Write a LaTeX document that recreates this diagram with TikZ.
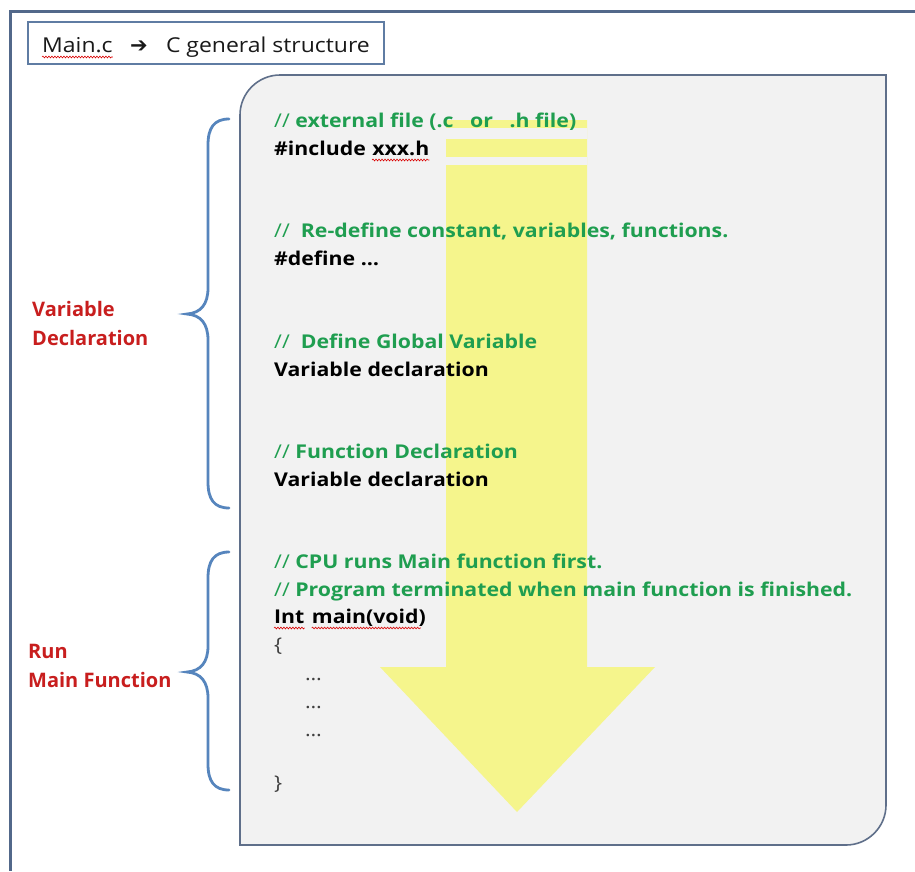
\documentclass[tikz,border=0pt]{standalone}
\usepackage{fontspec}
\setmainfont{Open Sans}[FakeStretch=1.12]
\newfontfamily\labelfont{Open Sans}
\newfontfamily\symfont{DejaVu Sans}
\usetikzlibrary{decorations.pathmorphing}

\definecolor{frameblue}{HTML}{52688A}
\definecolor{titleedge}{HTML}{5F7CA3}
\definecolor{panelgrey}{HTML}{F2F2F2}
\definecolor{paneledge}{HTML}{5F6F8A}
\definecolor{flowyellow}{HTML}{F5F58C}
\definecolor{cmtgreen}{HTML}{1F9E50}
\definecolor{labelred}{HTML}{C81E1E}
\definecolor{braceblue}{HTML}{5685BD}

\tikzset{
  codefont/.style={font=\bfseries\fontsize{19}{28}\selectfont},
  codeline/.style={codefont, anchor=base west, inner sep=0pt, text=black},
  cmtline/.style={codefont, anchor=base west, inner sep=0pt, text=cmtgreen},
  dotsline/.style={font=\fontsize{19}{28}\selectfont, anchor=base west, inner sep=0pt, text=black!75},
  sidelabel/.style={font=\labelfont\bfseries\fontsize{20}{29}\selectfont, anchor=base west, inner sep=0pt,
    align=left, text=labelred},
  titletext/.style={font=\fontsize{20.5}{24}\selectfont, anchor=base west, inner sep=0pt, text=black!90},
  bracepath/.style={draw=braceblue, line width=2.8pt, line cap=round},
  squiggle/.style={draw=red!85!black, line width=0.6pt,
    decorate, decoration={snake, amplitude=0.9pt, segment length=3pt}},
}

\begin{document}
\begin{tikzpicture}[x=1pt, y=-1pt]
\useasboundingbox (0,0) rectangle (915,871);
\fill[white] (0,0) rectangle (915,871);

% outer frame (only top and left edges fall inside the page)
\draw[frameblue, line width=3pt] (915,11) -- (10,11) -- (10,871);

% title box
\node[draw=titleedge, line width=1.2pt, minimum width=356pt, minimum height=42pt,
      inner sep=0pt] (titlebox) at (206,43) {};
\node[titletext] (titlemain) at (42,52) {Main.c};
\node[titletext, font=\symfont\bfseries\fontsize{21}{24}\selectfont] (titlearrow)
  at ([xshift=17pt]titlemain.base east) {➔};
\node[titletext] (titlerest) at ([xshift=18pt]titlearrow.base east) {C general structure};
\draw[squiggle] ([yshift=-5pt]titlemain.base west) -- ([yshift=-5pt]titlemain.base east);

% code panel: rounded top-left and bottom-right corners
\draw[fill=panelgrey, draw=paneledge, line width=1.6pt]
  (240,845) -- (240,115) .. controls (240,93) and (258,75) .. (280,75)
  -- (886,75) -- (886,805) .. controls (886,827) and (868,845) .. (846,845) -- cycle;

% flow arrow through the code
\fill[flowyellow] (446,120) -- (587,120) -- (587,667) -- (655,667) -- (517,812)
  -- (380,667) -- (446,667) -- cycle;
\fill[panelgrey] (446,128) rectangle (587,139);
\fill[panelgrey] (446,157) rectangle (587,165);

% code listing
\node[cmtline] (l1) at (274,127) {{\mdseries //} external file (.c\ \ \ or\ \ \ .h file)};
\node[codeline] (l2a) at (274,155) {\#include};
\node[codeline] (l2b) at ([xshift=6pt]l2a.base east) {xxx.h};
\draw[squiggle] ([yshift=-5pt]l2b.base west) -- ([yshift=-5pt]l2b.base east);

\node[cmtline] (l3) at (274,237) {{\mdseries //}\ \ Re-define constant, variables, functions.};
\node[codeline] (l4) at (274,265) {\#define \dots};

\node[cmtline] (l5) at (274,348) {{\mdseries //}\ \ Define Global Variable};
\node[codeline] (l6) at (274,376) {Variable declaration};

\node[cmtline] (l7) at (274,458) {{\mdseries //} Function Declaration};
\node[codeline] (l8) at (274,486) {Variable declaration};

\node[cmtline] (l9) at (274,568) {{\mdseries //} CPU runs Main function first.};
\node[cmtline] (l10) at (274,596) {{\mdseries //} Program terminated when main function is finished.};
\node[codeline] (l11a) at (274,623) {Int};
\node[codeline] (l11b) at ([xshift=7pt]l11a.base east) {main(void)};
\draw[squiggle] ([yshift=-5pt]l11a.base west) -- ([yshift=-5pt]l11a.base east);
\draw[squiggle] ([yshift=-5pt]l11b.base west) -- ([yshift=-5pt,xshift=-5pt]l11b.base east);
\node[dotsline] (l12) at (274,651) {\{};
\node[dotsline] (l13) at (305,680) {\dots};
\node[dotsline] (l14) at (305,708) {\dots};
\node[dotsline] (l15) at (305,736) {\dots};
\node[dotsline] (l16) at (274,789) {\}};

% section braces and their labels
\draw[bracepath] (229,119) .. controls (214,119) and (208,128) .. (208,145)
  -- (208,288) .. controls (208,304) and (201,313) .. (187,314)
  .. controls (201,315) and (208,324) .. (208,340)
  -- (208,482) .. controls (208,499) and (214,508) .. (229,508);
\draw[bracepath] (229,552) .. controls (214,552) and (208,561) .. (208,578)
  -- (208,646) .. controls (208,662) and (201,671) .. (187,672)
  .. controls (201,673) and (208,682) .. (208,698)
  -- (208,764) .. controls (208,781) and (214,790) .. (229,790);

\node[sidelabel] (decl) at (32,345) {Variable\\Declaration};
\node[sidelabel] (runmain) at (28,687) {Run\\Main Function};
\end{tikzpicture}
\end{document}
